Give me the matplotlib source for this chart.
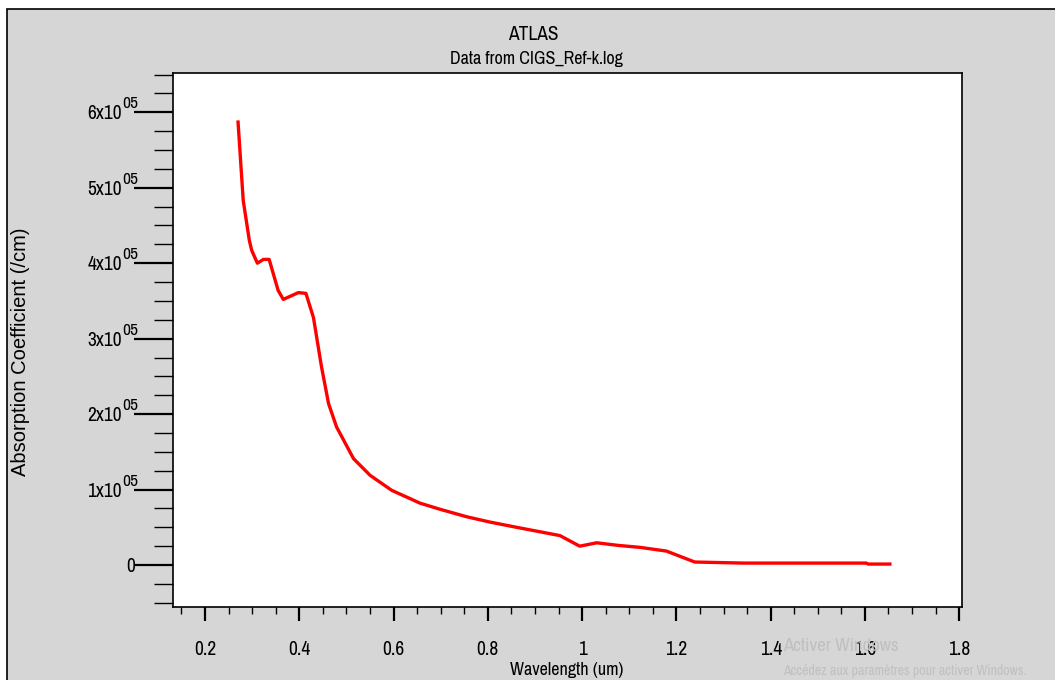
import matplotlib
matplotlib.use("Agg")
import matplotlib.pyplot as plt
from matplotlib.ticker import MultipleLocator, FixedLocator, NullFormatter
from matplotlib.patches import Rectangle
from matplotlib.transforms import blended_transform_factory, ScaledTranslation

# data
wavelength = [0.270, 0.281, 0.294, 0.299, 0.311, 0.324, 0.336, 0.355, 0.366,
              0.398, 0.414, 0.430, 0.447, 0.462, 0.479, 0.515, 0.550, 0.596,
              0.635, 0.656, 0.698, 0.755, 0.804, 0.861, 0.903, 0.953, 0.995,
              1.031, 1.077, 1.123, 1.179, 1.207, 1.239, 1.342, 1.603, 1.607, 1.653]
absorption = [5.87e5, 4.83e5, 4.30e5, 4.17e5, 4.00e5, 4.05e5, 4.05e5, 3.64e5, 3.52e5,
              3.61e5, 3.60e5, 3.28e5, 2.63e5, 2.14e5, 1.83e5, 1.41e5, 1.19e5, 0.99e5,
              0.88e5, 0.82e5, 0.74e5, 0.64e5, 0.57e5, 0.50e5, 0.45e5, 0.39e5, 0.25e5,
              0.295e5, 0.26e5, 0.234e5, 0.185e5, 0.117e5, 0.04e5, 0.026e5, 0.026e5,
              0.013e5, 0.013e5]

x_ticks = [0.2, 0.4, 0.6, 0.8, 1.0, 1.2, 1.4, 1.6, 1.8]
x_ticklabels = ["0.2", "0.4", "0.6", "0.8", "1", "1.2", "1.4", "1.6", "1.8"]
y_ticks = [0, 1e5, 2e5, 3e5, 4e5, 5e5, 6e5]
y_ticklabels = ["0", "1x10", "2x10", "3x10", "4x10", "5x10", "6x10"]
y_exponents = ["", "05", "05", "05", "05", "05", "05"]

plt.rcParams['font.family'] = ['Archivo Narrow', 'Liberation Sans', 'DejaVu Sans']
grey = "#d6d6d6"

fig = plt.figure(figsize=(10.55, 6.8), dpi=100)
fig.patch.set_facecolor("white")
# grey panel with black frame
fig.patches.append(Rectangle((7 / 1055, -0.01), 1.02, (680 - 9) / 680 + 0.01,
                             transform=fig.transFigure, facecolor=grey,
                             edgecolor="black", linewidth=1.2, zorder=-1))

ax = fig.add_axes([173 / 1055, (680 - 607) / 680, (962 - 173) / 1055, (607 - 73) / 680])
ax.set_facecolor("white")
ax.plot(wavelength, absorption, color="red", linewidth=2.4)

ax.set_xlim(0.132, 1.806)
ax.set_ylim(-0.556e5, 6.52e5)

ax.xaxis.set_major_locator(FixedLocator(x_ticks))
ax.set_xticklabels(x_ticklabels)
ax.xaxis.set_minor_locator(MultipleLocator(0.05))
ax.yaxis.set_major_locator(FixedLocator(y_ticks))
ax.yaxis.set_major_formatter(NullFormatter())
ax.yaxis.set_minor_locator(MultipleLocator(0.25e5))

ax.tick_params(axis="x", which="major", direction="out", length=10, width=1.6,
               labelsize=14, pad=14)
ax.tick_params(axis="x", which="minor", direction="out", length=5, width=1)
ax.tick_params(axis="y", which="major", direction="out", length=28, width=1.6)
ax.tick_params(axis="y", which="minor", direction="out", length=14, width=1)
for s in ax.spines.values():
    s.set_linewidth(1.2)

# y tick labels with big superscript exponent
blend = blended_transform_factory(ax.transAxes, ax.transData)
for v, base, ex in zip(y_ticks, y_ticklabels, y_exponents):
    if ex:
        tb = blend + ScaledTranslation(-0.51, -0.07, fig.dpi_scale_trans)
        ax.text(0, v, base, transform=tb, ha="right", va="baseline", fontsize=14)
        te = blend + ScaledTranslation(-0.51, 0.04, fig.dpi_scale_trans)
        ax.text(0, v, ex, transform=te, ha="left", va="baseline", fontsize=12.5)
    else:
        tb = blend + ScaledTranslation(-0.38, -0.065, fig.dpi_scale_trans)
        ax.text(0, v, base, transform=tb, ha="right", va="baseline", fontsize=14)

fig.text(21 / 1055, 1 - 352 / 680, "Absorption Coefficient (/cm)", rotation=90,
         ha="center", va="center", fontsize=14.5, family="Liberation Sans")
fig.text(567 / 1055, 1 - 670 / 680, "Wavelength (um)", ha="center", va="center",
         fontsize=13)
fig.text(533 / 1055, 1 - 35 / 680, "ATLAS", ha="center", va="center", fontsize=14)
fig.text(536 / 1055, 1 - 59 / 680, "Data from CIGS_Ref-k.log", ha="center",
         va="center", fontsize=13)

# windows watermark
fig.text(783 / 1055, 1 - 646 / 680, "Activer Windows", ha="left", va="center",
         fontsize=13.5, color="#c0c0c0")
fig.text(783 / 1055, 1 - 671 / 680, "Accédez aux paramètres pour activer Windows.",
         ha="left", va="center", fontsize=10, color="#c0c0c0")

fig.savefig("out.png", dpi=100, facecolor=fig.get_facecolor())
